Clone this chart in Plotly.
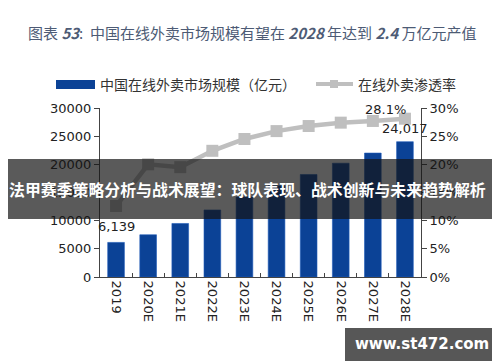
import plotly.graph_objects as go

years = ["2019", "2020E", "2021E", "2022E", "2023E", "2024E", "2025E", "2026E", "2027E", "2028E"]
market_size = [6139, 7500, 9500, 11900, 14200, 16200, 18200, 20200, 22000, 24017]
penetration = [12.6, 20.0, 19.5, 22.4, 24.5, 25.9, 26.8, 27.4, 27.7, 28.1]
left_ticks = [0, 5000, 10000, 15000, 20000, 25000, 30000]
right_ticks = [0, 5, 10, 15, 20, 25, 30]

W, H = 500, 362
L, R, T, B = 92, 413, 100, 269

def px(x):
    return (x - L) / (R - L)

def py(y):
    return (B - y) / (B - T)

CJK = "Noto Sans CJK SC"
BLUE = "#0b4296"
GRAY = "#bfbfbf"

fig = go.Figure()
fig.add_trace(go.Bar(
    x=years, y=market_size, marker=dict(color=BLUE, line=dict(color="#1f5bb8", width=0.6)),
    name="中国在线外卖市场规模（亿元）", showlegend=False, yaxis="y",
))
fig.add_trace(go.Scatter(
    x=years, y=penetration, mode="lines+markers", yaxis="y2",
    line=dict(color=GRAY, width=4.5), marker=dict(symbol="square", size=12, color=GRAY),
    name="在线外卖渗透率", showlegend=False,
))

axis_font = dict(family="DejaVu Sans", size=13, color="#222")
fig.update_layout(
    width=W, height=H,
    margin=dict(l=L, r=W - R, t=T, b=H - B),
    paper_bgcolor="white", plot_bgcolor="white",
    bargap=0.48,
    xaxis=dict(
        type="category", categoryorder="array", categoryarray=years,
        range=[-0.5, len(years) - 0.5], autorange=False,
        tickangle=90, tickfont=axis_font,
        showline=True, linecolor="#444", linewidth=1,
        ticks="inside", tickson="boundaries", ticklen=4, tickcolor="#444",
        showgrid=False, zeroline=False,
    ),
    yaxis=dict(
        range=[0, 30000], autorange=False, tickvals=left_ticks, ticktext=[str(v) for v in left_ticks],
        tickfont=axis_font, showline=True, linecolor="#444", linewidth=1,
        ticks="outside", ticklen=5, tickcolor="#444", showgrid=False, zeroline=False,
    ),
    yaxis2=dict(
        range=[0, 30], autorange=False, overlaying="y", side="right",
        tickvals=right_ticks, ticktext=[f"{v}%" for v in right_ticks],
        tickfont=axis_font, showline=True, linecolor="#444", linewidth=1,
        ticks="outside", ticklen=5, tickcolor="#444", showgrid=False, zeroline=False,
    ),
    font=dict(family=CJK),
)

first, last = 0, len(years) - 1
lab_font = dict(family="DejaVu Sans", size=13, color="#222")
annotations = []
# title
annotations.append(dict(
    xref="paper", yref="paper", x=px(18), y=py(25), xanchor="left", yanchor="middle",
    text="图表 <b><i>53</i></b>:  中国在线外卖市场规模有望在 <b><i>2028</i></b> 年达到 <b><i>2.4</i></b> 万亿元产值",
    showarrow=False, font=dict(family=CJK, size=15, color="#4d5b75"),
))
# legend texts
annotations.append(dict(
    xref="paper", yref="paper", x=px(90), y=py(76), xanchor="left", yanchor="middle",
    text="中国在线外卖市场规模（亿元）", showarrow=False, font=dict(family=CJK, size=14, color="#333"),
))
annotations.append(dict(
    xref="paper", yref="paper", x=px(348), y=py(76), xanchor="left", yanchor="middle",
    text="在线外卖渗透率", showarrow=False, font=dict(family=CJK, size=14, color="#333"),
))
# data labels
annotations.append(dict(
    xref="x", yref="y", x=first, y=market_size[first], xanchor="center", yanchor="middle",
    yshift=16, text=f"{market_size[first]:,}", showarrow=False, font=lab_font,
))
annotations.append(dict(
    xref="x", yref="y", x=last, y=market_size[last], xanchor="center", yanchor="middle",
    yshift=13, text=f"{market_size[last]:,}", showarrow=False, font=lab_font,
))
annotations.append(dict(
    xref="x", yref="y2", x=last, y=penetration[last], xanchor="right", yanchor="middle",
    xshift=3, yshift=9, text=f"{penetration[last]}%", showarrow=False, font=lab_font,
))
# overlay band text
annotations.append(dict(
    xref="paper", yref="paper", x=px(-1), y=py(181), xanchor="left", yanchor="middle",
    text="<b>法甲赛季策略分析与战术展望：球队表现、战术创新与未来趋势解析</b>",
    showarrow=False, font=dict(family=CJK, size=15.9, color="white"),
))
# watermark
annotations.append(dict(
    xref="paper", yref="paper", x=px(414), y=py(336), xanchor="center", yanchor="middle",
    text="<b>www.st472.com</b>", showarrow=False, font=dict(family="DejaVu Sans", size=15, color="white"),
))

shapes = []
# legend swatches
shapes.append(dict(type="rect", xref="paper", yref="paper", x0=px(48), x1=px(87), y0=py(72), y1=py(81),
                   fillcolor=BLUE, line=dict(width=0), layer="above"))
shapes.append(dict(type="line", xref="paper", yref="paper", x0=px(308), x1=px(345), y0=py(76), y1=py(76),
                   line=dict(color=GRAY, width=4), layer="above"))
shapes.append(dict(type="rect", xref="paper", yref="paper", x0=px(322), x1=px(330), y0=py(72), y1=py(80),
                   fillcolor=GRAY, line=dict(width=0), layer="above"))
# overlay band
shapes.append(dict(type="rect", xref="paper", yref="paper", x0=px(0), x1=px(500), y0=py(151), y1=py(211),
                   fillcolor="rgba(20,20,20,0.7)", line=dict(width=0), layer="above"))
# watermark box
shapes.append(dict(type="rect", xref="paper", yref="paper", x0=px(337), x1=px(491), y0=py(320), y1=py(353),
                   fillcolor="rgba(45,45,45,0.8)", line=dict(width=0), layer="above"))
# bottom rule
shapes.append(dict(type="line", xref="paper", yref="paper", x0=px(6), x1=px(494), y0=py(356), y1=py(356),
                   line=dict(color="#3a4a5c", width=2), layer="above"))

fig.update_layout(annotations=annotations, shapes=shapes)
fig.write_html("out.html")
